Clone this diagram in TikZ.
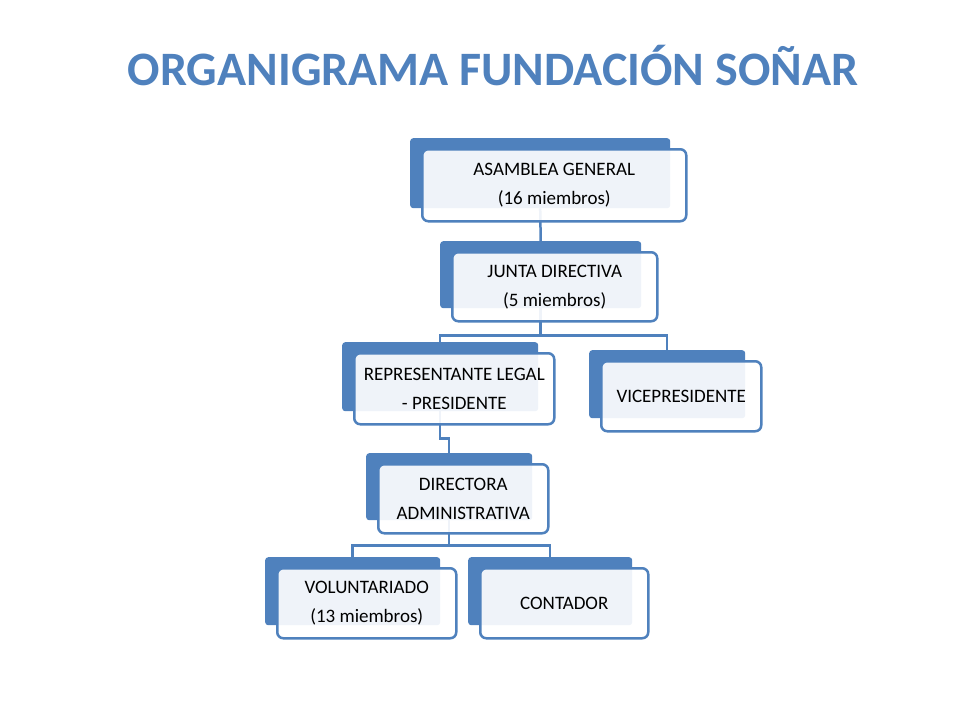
\documentclass[tikz,border=0pt]{standalone}
\usepackage{fontspec}
\setmainfont{Carlito}
\usetikzlibrary{backgrounds}
\definecolor{orgblue}{HTML}{4F81BD}

\tikzset{
  back/.style={rectangle,rounded corners=3pt,fill=orgblue,anchor=north west,inner sep=0pt},
  front/.style={rectangle,rounded corners=6pt,draw=orgblue,line width=2.5pt,fill=white,fill opacity=.91,text opacity=1,
    anchor=north west,inner sep=0pt,align=center,font=\fontsize{19}{29}\selectfont},
  link/.style={draw=orgblue,line width=2.5pt}
}
% back box and front box in image coordinates
\newcommand{\orgbox}[7]{%
  \node[back,minimum width=#4,minimum height=#5] (#1b) at (#2,#3) {};
  \node[front,minimum width=#4+4pt,minimum height=#5+2pt] (#1) at (#2+11,#3+10) {#6};
}

\begin{document}
\begin{tikzpicture}[x=1pt,y=-1pt]
  \useasboundingbox (0,0) rectangle (960,720);
  \node[font=\fontsize{48}{52}\bfseries,text=orgblue] (title) at (493,66) {ORGANIGRAMA FUNDACIÓN SOÑAR};

  \orgbox{asam}{410}{138}{260pt}{70pt}{ASAMBLEA GENERAL\\(16 miembros)}{}
  \orgbox{junta}{440}{241}{201pt}{67pt}{JUNTA DIRECTIVA\\(5 miembros)}{}
  \orgbox{rep}{342}{342}{196pt}{69pt}{REPRESENTANTE LEGAL\\- PRESIDENTE}{}
  \orgbox{vice}{589}{350}{156pt}{68pt}{VICEPRESIDENTE}{}
  \orgbox{dir}{366}{453}{166pt}{67pt}{DIRECTORA\\ADMINISTRATIVA}{}
  \orgbox{vol}{265}{557}{175pt}{68pt}{VOLUNTARIADO\\(13 miembros)}{}
  \orgbox{cont}{468}{557}{164pt}{68pt}{CONTADOR}{}

  \begin{pgfonlayer}{background}
    \draw[link] (asamb.south) -- (juntab.north);
    \draw[link] (juntab.south) -- ++(0,27) -| (repb.north);
    \draw[link] (juntab.south) -- ++(0,27) -| (viceb.north);
    \draw[link] (repb.south) -- ++(0,27) -| (dirb.north);
    \draw[link] (dirb.south) -- ++(0,25) -| (volb.north);
    \draw[link] (dirb.south) -- ++(0,25) -| (contb.north);
  \end{pgfonlayer}
\end{tikzpicture}
\end{document}
